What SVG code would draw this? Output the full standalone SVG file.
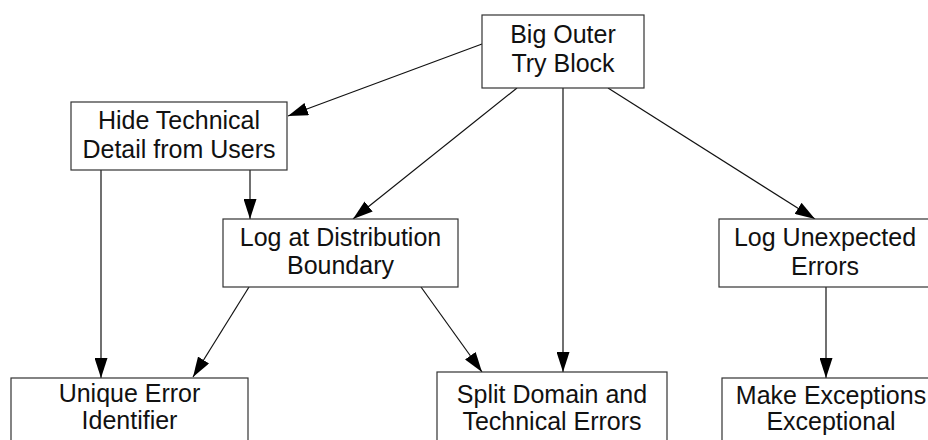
<svg xmlns="http://www.w3.org/2000/svg" width="928" height="440" viewBox="0 0 928 440">
  <defs>
    <marker id="arrow" markerWidth="20" markerHeight="13" refX="20" refY="6.5" orient="auto" markerUnits="userSpaceOnUse">
      <path d="M0,0 L20,6.5 L0,13 Z" fill="#000"/>
    </marker>
    <style>
      .box { fill: #fff; stroke: #333; stroke-width: 1.2; }
      .lbl { font-family: "Liberation Sans", Arial, sans-serif; font-size: 25px; fill: #111; text-anchor: middle; }
      .edge { stroke: #111; stroke-width: 1.2; fill: none; marker-end: url(#arrow); }
    </style>
  </defs>
  <rect width="928" height="440" fill="#fff"/>

  <g id="connectors">
    <line class="edge" x1="482" y1="44" x2="288" y2="116"/>
    <line class="edge" x1="517" y1="88" x2="353" y2="219"/>
    <line class="edge" x1="563" y1="88" x2="563" y2="372"/>
    <line class="edge" x1="608" y1="88" x2="815" y2="219"/>
    <line class="edge" x1="101" y1="170" x2="101" y2="378"/>
    <line class="edge" x1="250" y1="170" x2="250" y2="219"/>
    <line class="edge" x1="249" y1="287" x2="193" y2="377"/>
    <line class="edge" x1="421" y1="287" x2="482" y2="372"/>
    <line class="edge" x1="826" y1="287" x2="826" y2="378"/>
  </g>

  <g id="big-outer-try-block">
    <rect class="box" x="482" y="15" width="162" height="73"/>
    <text class="lbl" x="563" y="43">Big Outer</text>
    <text class="lbl" x="563" y="72">Try Block</text>
  </g>

  <g id="hide-technical-detail">
    <rect class="box" x="71" y="102" width="216" height="68"/>
    <text class="lbl" x="179" y="129">Hide Technical</text>
    <text class="lbl" x="179" y="158">Detail from Users</text>
  </g>

  <g id="log-at-distribution-boundary">
    <rect class="box" x="223" y="219" width="235" height="68"/>
    <text class="lbl" x="340.5" y="246">Log at Distribution</text>
    <text class="lbl" x="340.5" y="274">Boundary</text>
  </g>

  <g id="log-unexpected-errors">
    <rect class="box" x="719" y="219" width="212" height="68"/>
    <text class="lbl" x="825" y="246">Log Unexpected</text>
    <text class="lbl" x="825" y="275">Errors</text>
  </g>

  <g id="unique-error-identifier">
    <rect class="box" x="11" y="378" width="237" height="70"/>
    <text class="lbl" x="129.5" y="402">Unique Error</text>
    <text class="lbl" x="129.5" y="429">Identifier</text>
  </g>

  <g id="split-domain-technical">
    <rect class="box" x="437" y="372" width="230" height="76"/>
    <text class="lbl" x="552" y="403">Split Domain and</text>
    <text class="lbl" x="552" y="430">Technical Errors</text>
  </g>

  <g id="make-exceptions-exceptional">
    <rect class="box" x="722" y="378" width="218" height="70"/>
    <text class="lbl" x="831" y="404">Make Exceptions</text>
    <text class="lbl" x="831" y="430">Exceptional</text>
  </g>
</svg>
